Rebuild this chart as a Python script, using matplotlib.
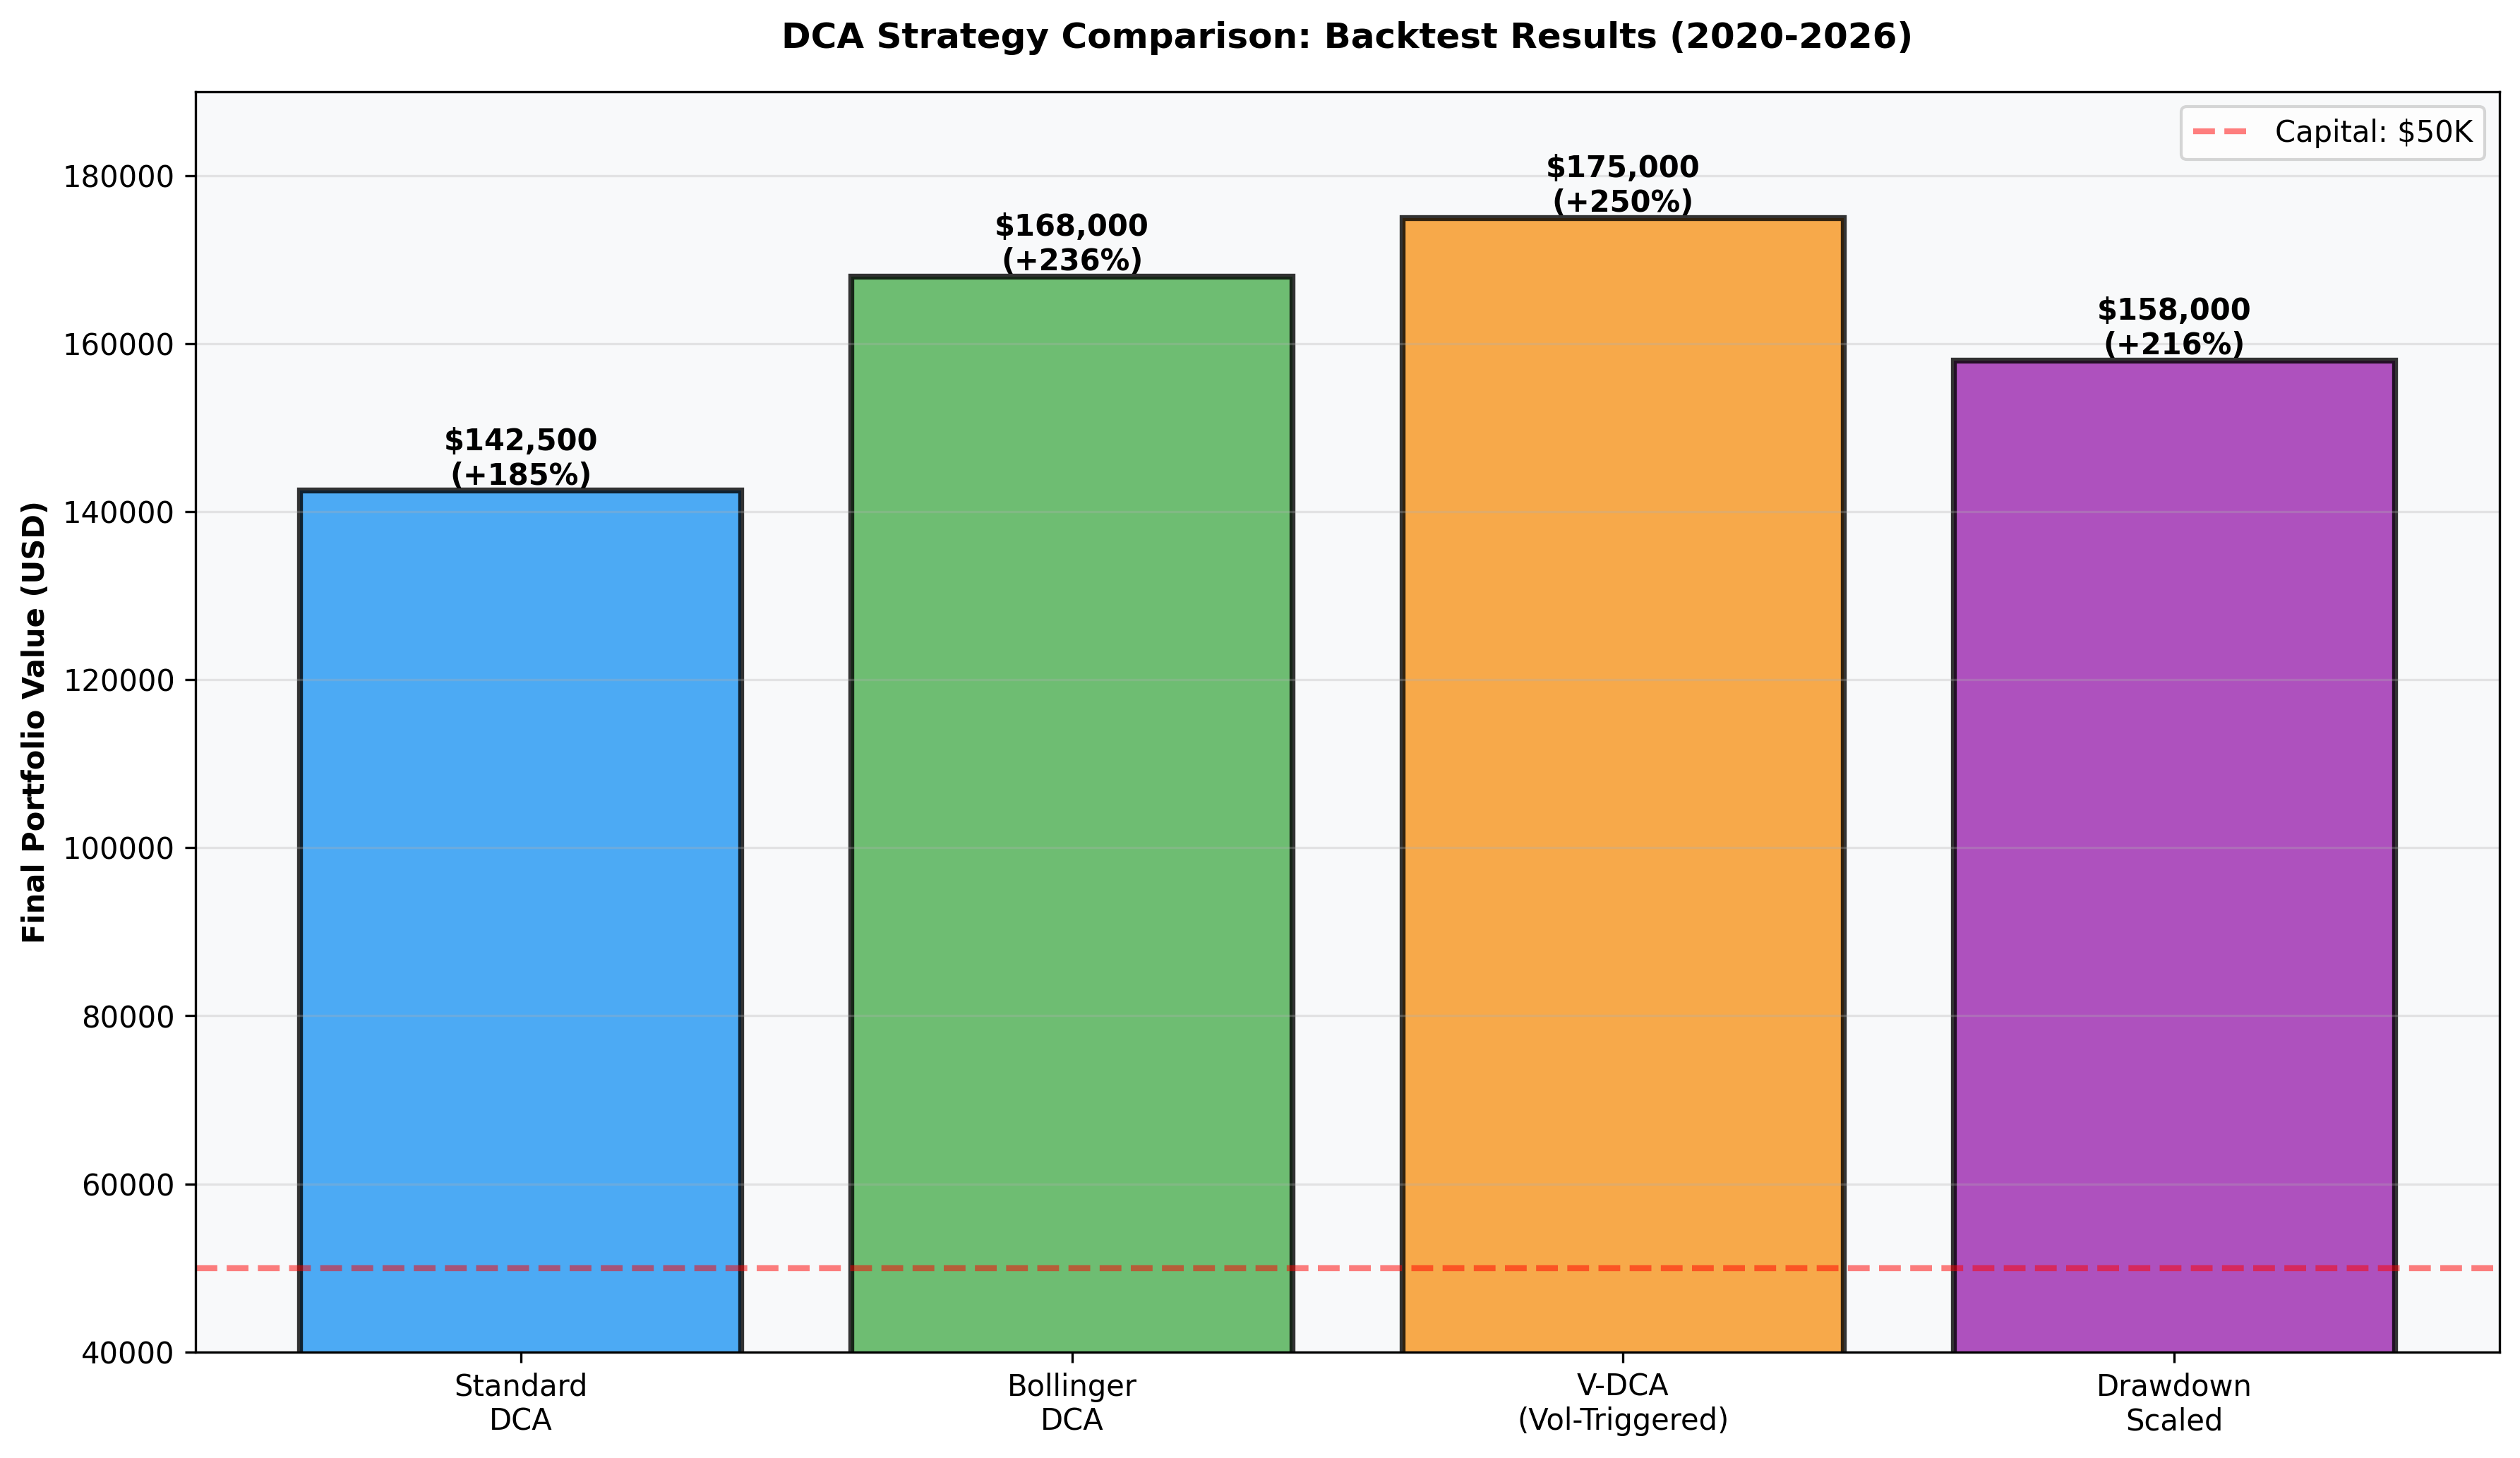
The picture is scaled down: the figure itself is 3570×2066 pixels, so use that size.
import matplotlib.pyplot as plt
import numpy as np

strategies = ["Standard\nDCA", "Bollinger\nDCA", "V-DCA\n(Vol-Triggered)", "Drawdown\nScaled"]
final_values = [142500, 168000, 175000, 158000]
returns_pct = [185, 236, 250, 216]
capital = 50000
colors = ["#2196F3", "#4CAF50", "#F7951E", "#9C27B0"]

fig, ax = plt.subplots(figsize=(11.9, 6.887), dpi=300)
fig.subplots_adjust(left=0.0776, right=0.9919, top=0.937, bottom=0.0728)
ax.set_facecolor("#f8f9fa")

x = np.arange(len(strategies))
bars = ax.bar(x, final_values, width=0.8, color=colors, alpha=0.8,
              edgecolor="black", linewidth=2)

ax.axhline(capital, color="red", linestyle="--", linewidth=2, alpha=0.5,
           label="Capital: $50K")

for b, v, r in zip(bars, final_values, returns_pct):
    ax.text(b.get_x() + b.get_width() / 2, b.get_height(),
            "${:,}\n(+{}%)".format(v, r),
            ha="center", va="bottom", fontsize=10, fontweight="bold")

ax.set_xticks(x)
ax.set_xticklabels(strategies, fontsize=10)
ax.set_ylim(40000, 190000)
ax.set_ylabel("Final Portfolio Value (USD)", fontsize=10, fontweight="bold")
ax.set_title("DCA Strategy Comparison: Backtest Results (2020-2026)",
             fontsize=12, fontweight="bold", pad=15)
ax.grid(axis="y", alpha=0.3)
ax.legend(loc="upper right", fontsize=10)

plt.savefig("out.png", dpi=300)
